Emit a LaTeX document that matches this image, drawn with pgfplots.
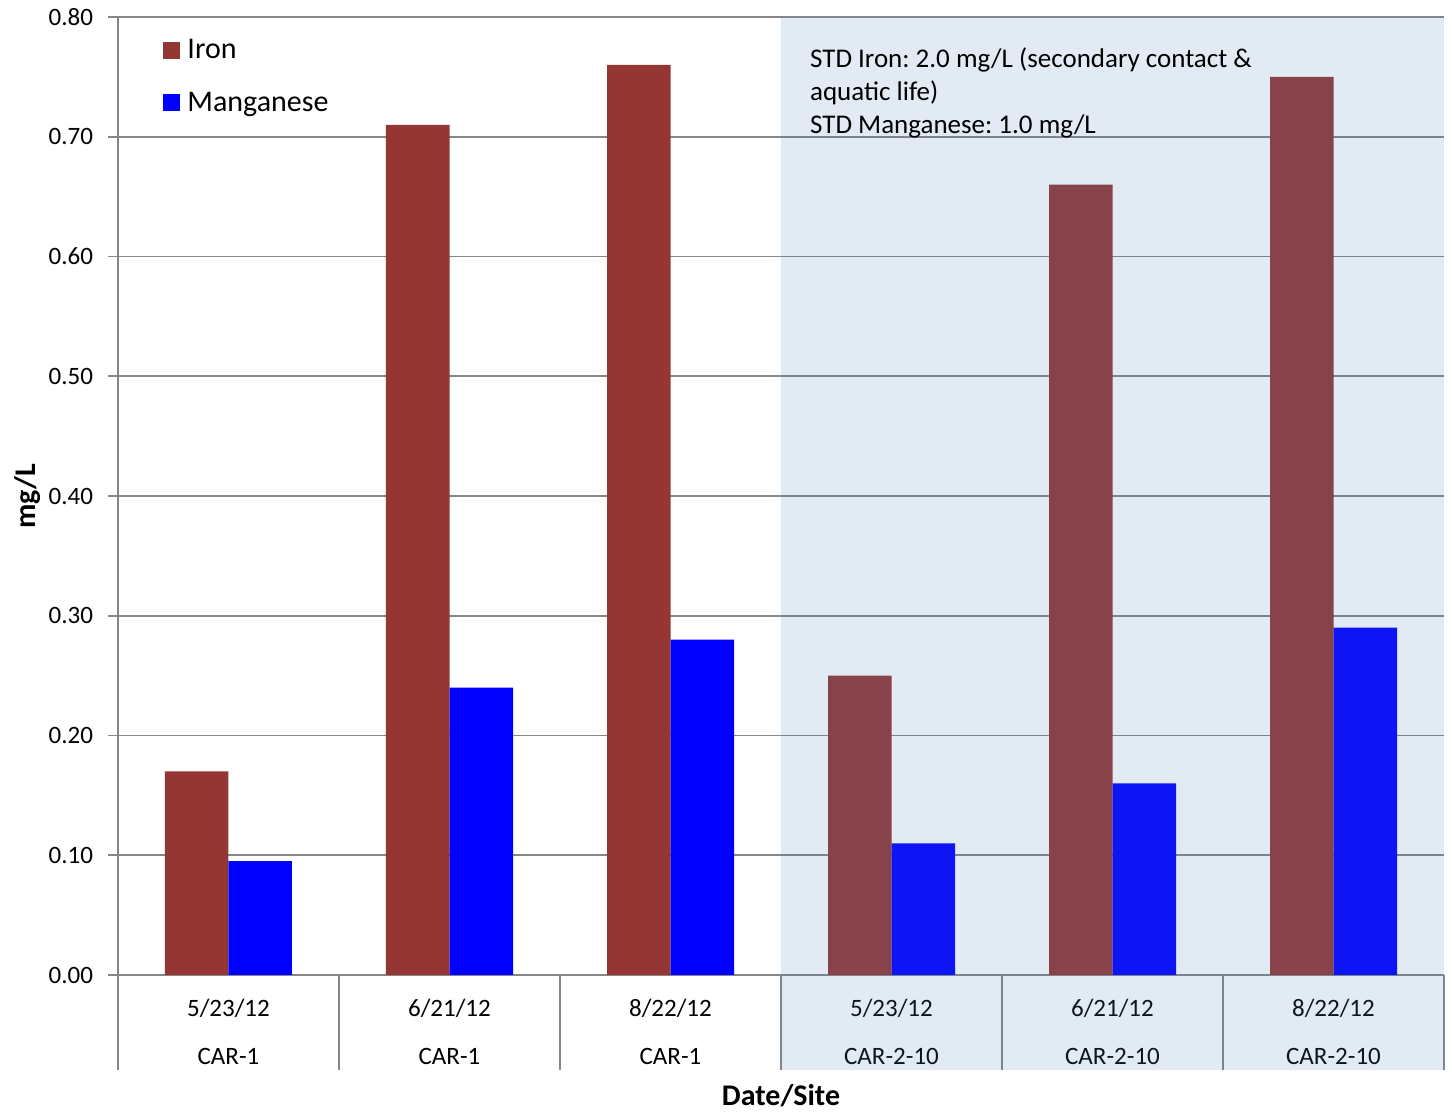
\documentclass[border=0pt]{standalone}
\usepackage{fontspec}
\setmainfont{Carlito}
\usepackage{pgfplots}
\pgfplotsset{compat=1.18}
\frenchspacing
\definecolor{ironred}{RGB}{148,54,52}
\definecolor{mnblue}{RGB}{0,0,255}
\definecolor{gridgray}{RGB}{134,134,134}
\definecolor{siteblue}{RGB}{79,129,189}

\begin{document}
\begin{tikzpicture}
\begin{axis}[
  scale only axis, width=663pt, height=479pt,
  clip=false,
  xmin=-0.5, xmax=5.5, ymin=0, ymax=0.8,
  ybar=0pt, bar width=31.75pt,
  axis x line*=bottom, axis y line*=left,
  axis line style={gridgray, line width=0.8pt, -},
  ymajorgrids, grid style={gridgray, line width=0.8pt},
  ytick={0,0.1,0.2,0.3,0.4,0.5,0.6,0.7,0.8},
  yticklabel style={/pgf/number format/fixed, /pgf/number format/fixed zerofill,
                    /pgf/number format/precision=2, /pgf/number format/assume math mode=true,
                    font=\fontsize{12.5}{15}\selectfont, xshift=-4pt},
  tick align=outside, major tick length=5pt,
  ytick style={gridgray, line width=0.8pt},
  xtick={0,1,2,3,4,5},
  xtick style={draw=none},
  xticklabels={{5/23/12\\CAR-1},{6/21/12\\CAR-1},{8/22/12\\CAR-1},
               {5/23/12\\CAR-2-10},{6/21/12\\CAR-2-10},{8/22/12\\CAR-2-10}},
  xticklabel style={align=center, anchor=center, yshift=-23.5pt,
                    font=\fontsize{12.5}{24}\selectfont},
  xlabel={Date/Site},
  xlabel style={at={([yshift=-60.5pt]axis description cs:0.5,0)}, anchor=center,
                font=\fontsize{15}{18}\selectfont\bfseries},
  ylabel={mg/L},
  ylabel style={at={([xshift=-45pt]axis description cs:0,0.5)}, anchor=center,
                font=\fontsize{15}{18}\selectfont\bfseries},
  legend style={at={(0.034,0.981)}, anchor=north west, draw=none, fill=none,
                font=\fontsize{15}{18}\selectfont, row sep=11pt, inner sep=0pt,
                cells={anchor=west}},
  legend image code/.code={\fill[#1] (0pt,-4.25pt) rectangle (8.5pt,4.25pt);},
]
\addplot[fill=ironred, draw=none] coordinates
  {(0,0.17) (1,0.71) (2,0.76) (3,0.25) (4,0.66) (5,0.75)};
\addplot[fill=mnblue, draw=none] coordinates
  {(0,0.095) (1,0.24) (2,0.28) (3,0.11) (4,0.16) (5,0.29)};
\legend{\hspace{1.5pt}Iron, \hspace{1.5pt}Manganese}

% category separators below the axis
\draw[gridgray, line width=0.8pt] (axis cs:-0.5,0) -- ++(0pt,-47.5pt);
\draw[gridgray, line width=0.8pt] (axis cs:0.5,0) -- ++(0pt,-47.5pt);
\draw[gridgray, line width=0.8pt] (axis cs:1.5,0) -- ++(0pt,-47.5pt);
\draw[gridgray, line width=0.8pt] (axis cs:2.5,0) -- ++(0pt,-47.5pt);
\draw[gridgray, line width=0.8pt] (axis cs:3.5,0) -- ++(0pt,-47.5pt);
\draw[gridgray, line width=0.8pt] (axis cs:4.5,0) -- ++(0pt,-47.5pt);
\draw[gridgray, line width=0.8pt] (axis cs:5.5,0) -- ++(0pt,-47.5pt);

% CAR-2-10 site shading
\fill[siteblue, fill opacity=0.165] (axis cs:2.5,0.8) rectangle ([yshift=-47.5pt]axis cs:5.5,0);

\node[anchor=north west, align=left, inner sep=0pt, font=\fontsize{13.5}{16.5}\selectfont]
  at (axis cs:2.63,0.775)
  {STD Iron: 2.0 mg/L (secondary contact \&\\aquatic life)\\STD Manganese: 1.0 mg/L};
\end{axis}
\path ([shift={(-59pt,-67.5pt)}]current axis.south west)
  rectangle ([shift={(4pt,8.5pt)}]current axis.north east);
\end{tikzpicture}
\end{document}
